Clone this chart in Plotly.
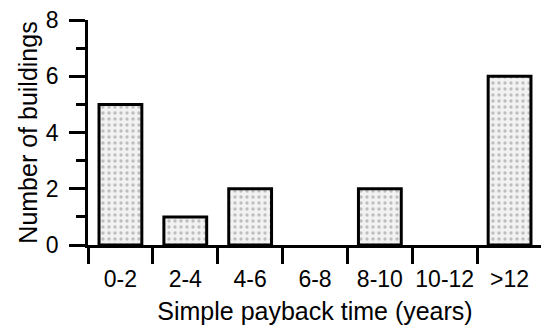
import plotly.graph_objects as go

categories = ["0-2", "2-4", "4-6", "6-8", "8-10", "10-12", ">12"]
buildings = [5, 1, 2, 0, 2, 0, 6]
y_ticks = [0, 2, 4, 6, 8]

FONT = "Liberation Sans, Arial, sans-serif"

# no outline for empty bins (they would draw a line on top of the axis)
outline_widths = [3 if v > 0 else 0 for v in buildings]

fig = go.Figure(
    go.Bar(
        x=categories,
        y=buildings,
        width=0.66,
        marker=dict(
            color="#eeeeee",
            line=dict(color="black", width=outline_widths),
            pattern=dict(shape=".", fgcolor="#8a8a8a", bgcolor="#f2f2f2", size=6, solidity=0.25),
        ),
    )
)

# the page body has an 8px default margin, so the figure is 8px smaller
fig.update_layout(
    width=541,
    height=321,
    margin=dict(l=80, r=7, t=12, b=84, autoexpand=False),
    plot_bgcolor="white",
    paper_bgcolor="white",
    showlegend=False,
    font=dict(family=FONT, size=23, color="black"),
)

fig.update_xaxes(
    type="category",
    range=[-0.5, 6.5],
    automargin=False,
    tickson="boundaries",
    ticks="outside",
    ticklen=16,
    tickwidth=2.5,
    tickcolor="black",
    tickangle=0,
    showline=True,
    linewidth=2.5,
    linecolor="black",
    showgrid=False,
    tickfont=dict(size=23),
    ticklabelstandoff=12,
    ticklabeloverflow="allow",
    title=dict(text="Simple payback time (years)", font=dict(size=25), standoff=12),
)

fig.update_yaxes(
    range=[0, 8],
    automargin=False,
    tickvals=y_ticks,
    ticks="outside",
    ticklen=16,
    tickwidth=2.5,
    tickcolor="black",
    showline=True,
    linewidth=2.5,
    linecolor="black",
    showgrid=False,
    zeroline=False,
    tickfont=dict(size=23),
    ticklabelstandoff=6,
    ticklabeloverflow="allow",
    minor=dict(dtick=1, ticks="outside", ticklen=9, tickwidth=2.5, tickcolor="black", showgrid=False),
    title=dict(text="Number of buildings", font=dict(size=25), standoff=2),
)

fig.write_html("out.html")
